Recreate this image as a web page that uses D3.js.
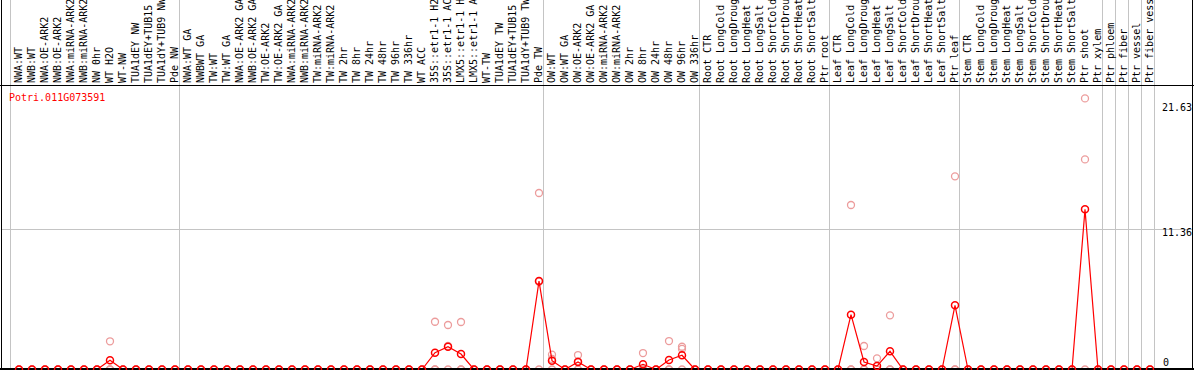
<!DOCTYPE html>
<html>
<head>
<meta charset="utf-8">
<script src="https://cdn.jsdelivr.net/npm/d3@7"></script>
<style>
  html, body { margin: 0; padding: 0; background: #fff; }
  svg { display: block; }
  text { font-family: "DejaVu Sans Mono", monospace; font-size: 10px; }
</style>
</head>
<body>
<div id="chart"></div>
<script>
// ---------------- DATA ----------------
const geneId = "Potri.011G073591";

const groupNW = ["NWA:WT","NWB:WT","NWA:OE-ARK2","NWB:OE-ARK2","NWA:miRNA-ARK2","NWB:miRNA-ARK2","NW 0hr","WT H2O","WT-NW","TUA1dEY NW","TUA1dEY+TUB15 NW","TUA1dY+TUB9 NW","Pde NW"];
const groupTW = ["NWA:WT GA","NWBWT GA","TW:WT","TW:WT GA","NWA:OE-ARK2 GA","NWB:OE-ARK2 GA","TW:OE-ARK2","TW:OE-ARK2 GA","NWA:miRNA-ARK2 GA","NWB:miRNA-ARK2 GA","TW:miRNA-ARK2","TW:miRNA-ARK2 GA","TW 2hr","TW 8hr","TW 24hr","TW 48hr","TW 96hr","TW 336hr","WT ACC","35S::etr1-1 H2O","35S::etr1-1 ACC","LMX5::etr1-1 H2O","LMX5::etr1-1 ACC","WT-TW","TUA1dEY TW","TUA1dEY+TUB15 TW","TUA1dY+TUB9 TW","Pde TW"];
const groupOW = ["OW:WT","OW:WT GA","OW:OE-ARK2","OW:OE-ARK2 GA","OW:miRNA-ARK2","OW:miRNA-ARK2 GA","OW 2hr","OW 8hr","OW 24hr","OW 48hr","OW 96hr","OW 336hr"];
const groupRoot = ["Root CTR","Root LongCold","Root LongDrought","Root LongHeat","Root LongSalt","Root ShortCold","Root ShortDrought","Root ShortHeat","Root ShortSalt","Ptr root"];
const groupLeaf = ["Leaf CTR","Leaf LongCold","Leaf LongDrought","Leaf LongHeat","Leaf LongSalt","Leaf ShortCold","Leaf ShortDrought","Leaf ShortHeat","Leaf ShortSalt","Ptr leaf"];
const groupStem = ["Stem CTR","Stem LongCold","Stem LongDrought","Stem LongHeat","Stem LongSalt","Stem ShortCold","Stem ShortDrought","Stem ShortHeat","Stem ShortSalt","Ptr shoot","Ptr xylem"];
const groupPhloem = ["Ptr phloem"];
const groupFiber = ["Ptr fiber"];
const groupVessel = ["Ptr vessel"];
const groupFiberVessel = ["Ptr fiber vessel"];

// mean expression per sample
const meanNW   = [0,0,0,0,0,0,0,0.74,0,0,0,0,0];
const meanTW   = [0,0,0,0,0,0,0,0,0,0, 0,0,0,0,0,0,0,0,0,1.36, 1.84,1.25,0,0,0,0,0,7.15];
const meanOW   = [0.71,0,0.61,0,0,0,0,0.42,0,0.77,1.15,0];
const meanRoot = [0,0,0,0,0,0,0,0,0,0];
const meanLeaf = [0,4.43,0.61,0.28,1.47,0,0,0,0,5.19];
const meanStem = [0,0,0,0,0,0,0,0,0,12.95,0];
const meanPtr  = [0,0,0,0];

// replicate 1
const rep1NW   = [0,0,0,0,0,0,0,2.28,0,0,0,0,0];
const rep1TW   = [0,0,0,0,0,0,0,0,0,0, 0,0,0,0,0,0,0,0,0,3.86, 3.6,3.84,0,0,0,0,0,14.27];
const rep1OW   = [1.2,0,1.17,0,0,0,0,1.33,0,2.3,1.84,0];
const rep1Root = [0,0,0,0,0,0,0,0,0,0];
const rep1Leaf = [0,13.3,1.9,0.9,4.38,0,0,0,0,15.62];
const rep1Stem = [0,0,0,0,0,0,0,0,0,21.92,0];
const rep1Ptr  = [0,0,0,0];

// replicate 2
const rep2NW   = [0,0,0,0,0,0,0,0,0,0,0,0,0];
const rep2TW   = [0,0,0,0,0,0,0,0,0,0, 0,0,0,0,0,0,0,0,0,0, 1.9,0,0,0,0,0,0,7.1];
const rep2OW   = [0.85,0,0.66,0,0,0,0,0,0,0,1.66,0];
const rep2Root = [0,0,0,0,0,0,0,0,0,0];
const rep2Leaf = [0,0,0,0,0,0,0,0,0,0];
const rep2Stem = [0,0,0,0,0,0,0,0,0,16.99,0];
const rep2Ptr  = [0,0,0,0];

// replicate 3
const rep3NW   = [0,0,0,0,0,0,0,0,0,0,0,0,0];
const rep3TW   = [0,0,0,0,0,0,0,0,0,0, 0,0,0,0,0,0,0,0,0,0, 0,0,0,0,0,0,0,0];
const rep3OW   = [0,0,0,0,0,0,0,0,0,0,0,0];
const rep3Root = [0,0,0,0,0,0,0,0,0,0];
const rep3Leaf = [0,0,0,0,0,0,0,0,0,0];
const rep3Stem = [0,0,0,0,0,0,0,0,0,0,0];
const rep3Ptr  = [0,0,0,0];

const yTickValues = [0, 11.36, 21.63];

// ---------------- BUILD ----------------
const groups = [groupNW, groupTW, groupOW, groupRoot, groupLeaf, groupStem, groupPhloem, groupFiber, groupVessel, groupFiberVessel];
const labels = groups.flat();
const means = [].concat(meanNW, meanTW, meanOW, meanRoot, meanLeaf, meanStem, meanPtr);
const reps = [
  [].concat(rep1NW, rep1TW, rep1OW, rep1Root, rep1Leaf, rep1Stem, rep1Ptr),
  [].concat(rep2NW, rep2TW, rep2OW, rep2Root, rep2Leaf, rep2Stem, rep2Ptr),
  [].concat(rep3NW, rep3TW, rep3OW, rep3Root, rep3Leaf, rep3Stem, rep3Ptr)
];
const groupStarts = [];
{ let s = 0; groups.forEach(g => { groupStarts.push(s); s += g.length; }); groupStarts.push(s); }

const W = 1194, H = 370;
const headerBottom = 85;
const idx = d3.range(labels.length);

const x = d3.scaleBand().domain(idx).range([12.5, 12.5 + 13 * labels.length]).paddingInner(0).paddingOuter(0);
const cx = i => x(i) + x.bandwidth() / 2;
const y = d3.scaleLinear().domain([0, 21.63]).range([369.5, 102]);

const svg = d3.select("#chart").append("svg").attr("width", W).attr("height", H);

// horizontal gridline (mid tick)
svg.append("line")
  .attr("x1", 1).attr("x2", W - 1)
  .attr("y1", Math.round(y(yTickValues[1])) + 0.5).attr("y2", Math.round(y(yTickValues[1])) + 0.5)
  .attr("stroke", "#c4c4c4").attr("stroke-width", 1);

// group separators
svg.selectAll("line.sep").data(groupStarts).enter().append("line")
  .attr("class", "sep")
  .attr("x1", d => Math.floor(x(Math.min(d, labels.length - 1)) + (d >= labels.length ? 13 : 0)) - 1.5)
  .attr("x2", d => Math.floor(x(Math.min(d, labels.length - 1)) + (d >= labels.length ? 13 : 0)) - 1.5)
  .attr("y1", 0).attr("y2", H)
  .attr("stroke", "#c4c4c4").attr("stroke-width", 1);

// column labels (rotated)
svg.selectAll("text.lab").data(idx).enter().append("text")
  .attr("class", "lab")
  .attr("transform", i => `translate(${cx(i) + 2.5},83) rotate(-90)`)
  .attr("fill", "#000")
  .text(i => labels[i]);

// header bottom line
svg.append("line").attr("x1", 0).attr("x2", W).attr("y1", headerBottom + 0.5).attr("y2", headerBottom + 0.5)
  .attr("stroke", "#000").attr("stroke-width", 1);

// gene id
svg.append("text").attr("x", 9).attr("y", 101).attr("fill", "#ff0000").text(geneId);

// y labels
svg.append("text").attr("x", 1192).attr("y", 111).attr("text-anchor", "end").text(d3.format(".2f")(yTickValues[2]));
svg.append("text").attr("x", 1192).attr("y", 236).attr("text-anchor", "end").text(d3.format(".2f")(yTickValues[1]));
svg.append("text").attr("x", 1163).attr("y", 366).attr("text-anchor", "start").text(String(yTickValues[0]));

// replicate points
const repPts = [];
reps.forEach(r => r.forEach((v, i) => repPts.push({ i, v })));
svg.selectAll("circle.rep").data(repPts).enter().append("circle")
  .attr("class", "rep")
  .attr("cx", d => cx(d.i)).attr("cy", d => y(d.v)).attr("r", 3.5)
  .attr("fill", "none").attr("stroke", "#ec9c9c").attr("stroke-width", 1.3);

// mean line
const line = d3.line().x(i => cx(i)).y(i => y(means[i]));
svg.append("path").datum(idx).attr("d", line)
  .attr("fill", "none").attr("stroke", "#ff0000").attr("stroke-width", 1.2);

// bottom baseline
svg.append("rect").attr("x", 0).attr("y", 368).attr("width", W).attr("height", 2).attr("fill", "#000");

// mean points
svg.selectAll("circle.mean").data(idx).enter().append("circle")
  .attr("class", "mean")
  .attr("cx", i => cx(i)).attr("cy", i => y(means[i])).attr("r", 3.5)
  .attr("fill", "none").attr("stroke", "#ff0000").attr("stroke-width", 1.5);

// borders
svg.append("line").attr("x1", 1.5).attr("x2", 1.5).attr("y1", 0).attr("y2", H).attr("stroke", "#000");
svg.append("line").attr("x1", W - 1.5).attr("x2", W - 1.5).attr("y1", 0).attr("y2", H).attr("stroke", "#000");
</script>
</body>
</html>
